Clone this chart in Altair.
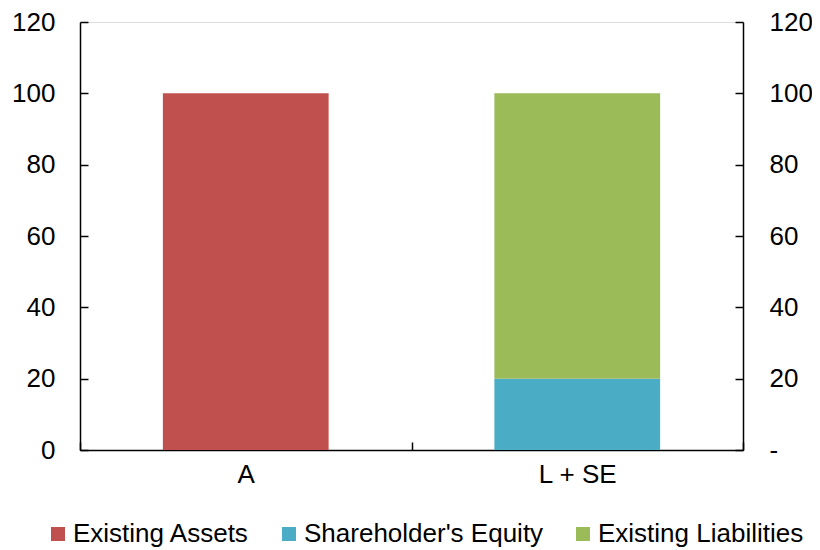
import altair as alt
import pandas as pd

# ---- data ----
categories = ["A", "L + SE", "L + SE"]
series = ["Existing Assets", "Shareholder's Equity", "Existing Liabilities"]
values = [100, 20, 80]
stack_order = [0, 0, 1]
category_order = ["A", "L + SE"]
series_order = ["Existing Assets", "Shareholder's Equity", "Existing Liabilities"]
colors = ["#C0504D", "#4BACC6", "#9BBB59"]
y_ticks = [0, 20, 40, 60, 80, 100, 120]

df = pd.DataFrame({"category": categories, "series": series,
                   "value": values, "order": stack_order})

FONT = "Liberation Sans"
FS = 26
INNER = {"expr": "-8"}

x = alt.X("category:N", sort=category_order, title=None,
          scale=alt.Scale(paddingInner=0, paddingOuter=0),
          axis=alt.Axis(labelAngle=0, labelFontSize=FS, labelColor="black",
                        labelPadding=19, tickBand="extent", tickSize=INNER,
                        tickColor="black", tickWidth=1.5,
                        domainColor="black", domainWidth=1.5))

y_scale = alt.Scale(domain=[0, 120], nice=False)

bars = alt.Chart(df).mark_bar(width={"band": 0.5}).encode(
    x=x,
    y=alt.Y("value:Q", stack="zero", title=None, scale=y_scale,
            axis=alt.Axis(orient="left", values=y_ticks, labelFontSize=FS,
                          labelColor="black", labelPadding=33, tickSize=INNER,
                          tickColor="black", tickWidth=1.5, grid=False,
                          domainColor="black", domainWidth=1.5)),
    color=alt.Color("series:N", sort=series_order,
                    scale=alt.Scale(domain=series_order, range=colors),
                    legend=alt.Legend(
                        title=None, orient="none", legendX=-35, legendY=499,
                        direction="horizontal", symbolType="square",
                        symbolSize=196, symbolStrokeWidth=0, labelFontSize=FS,
                        labelColor="black", labelOffset=2, columnPadding=26,
                        labelLimit=400, symbolOpacity=1)),
    order=alt.Order("order:Q"),
)

right = alt.Chart(df).mark_bar(width={"band": 0.5}, opacity=0).encode(
    x=x,
    y=alt.Y("value:Q", stack="zero", title=None, scale=y_scale,
            axis=alt.Axis(orient="right", values=y_ticks, labelFontSize=FS,
                          labelColor="black", labelPadding=34, tickSize=INNER,
                          tickColor="black", tickWidth=1.5, grid=False,
                          domainColor="black", domainWidth=1.5,
                          labelExpr="datum.value == 0 ? '-' : datum.label")),
    order=alt.Order("order:Q"),
)

chart = alt.layer(bars, right).resolve_scale(y="independent").properties(
    width=663, height=428,
    autosize=alt.AutoSizeParams(type="none"),
    padding={"left": 72, "top": 14, "right": 69, "bottom": 100},
).configure_view(stroke=None).configure(font=FONT)

chart.save("out.html", embed_options={"renderer": "svg", "actions": False})
